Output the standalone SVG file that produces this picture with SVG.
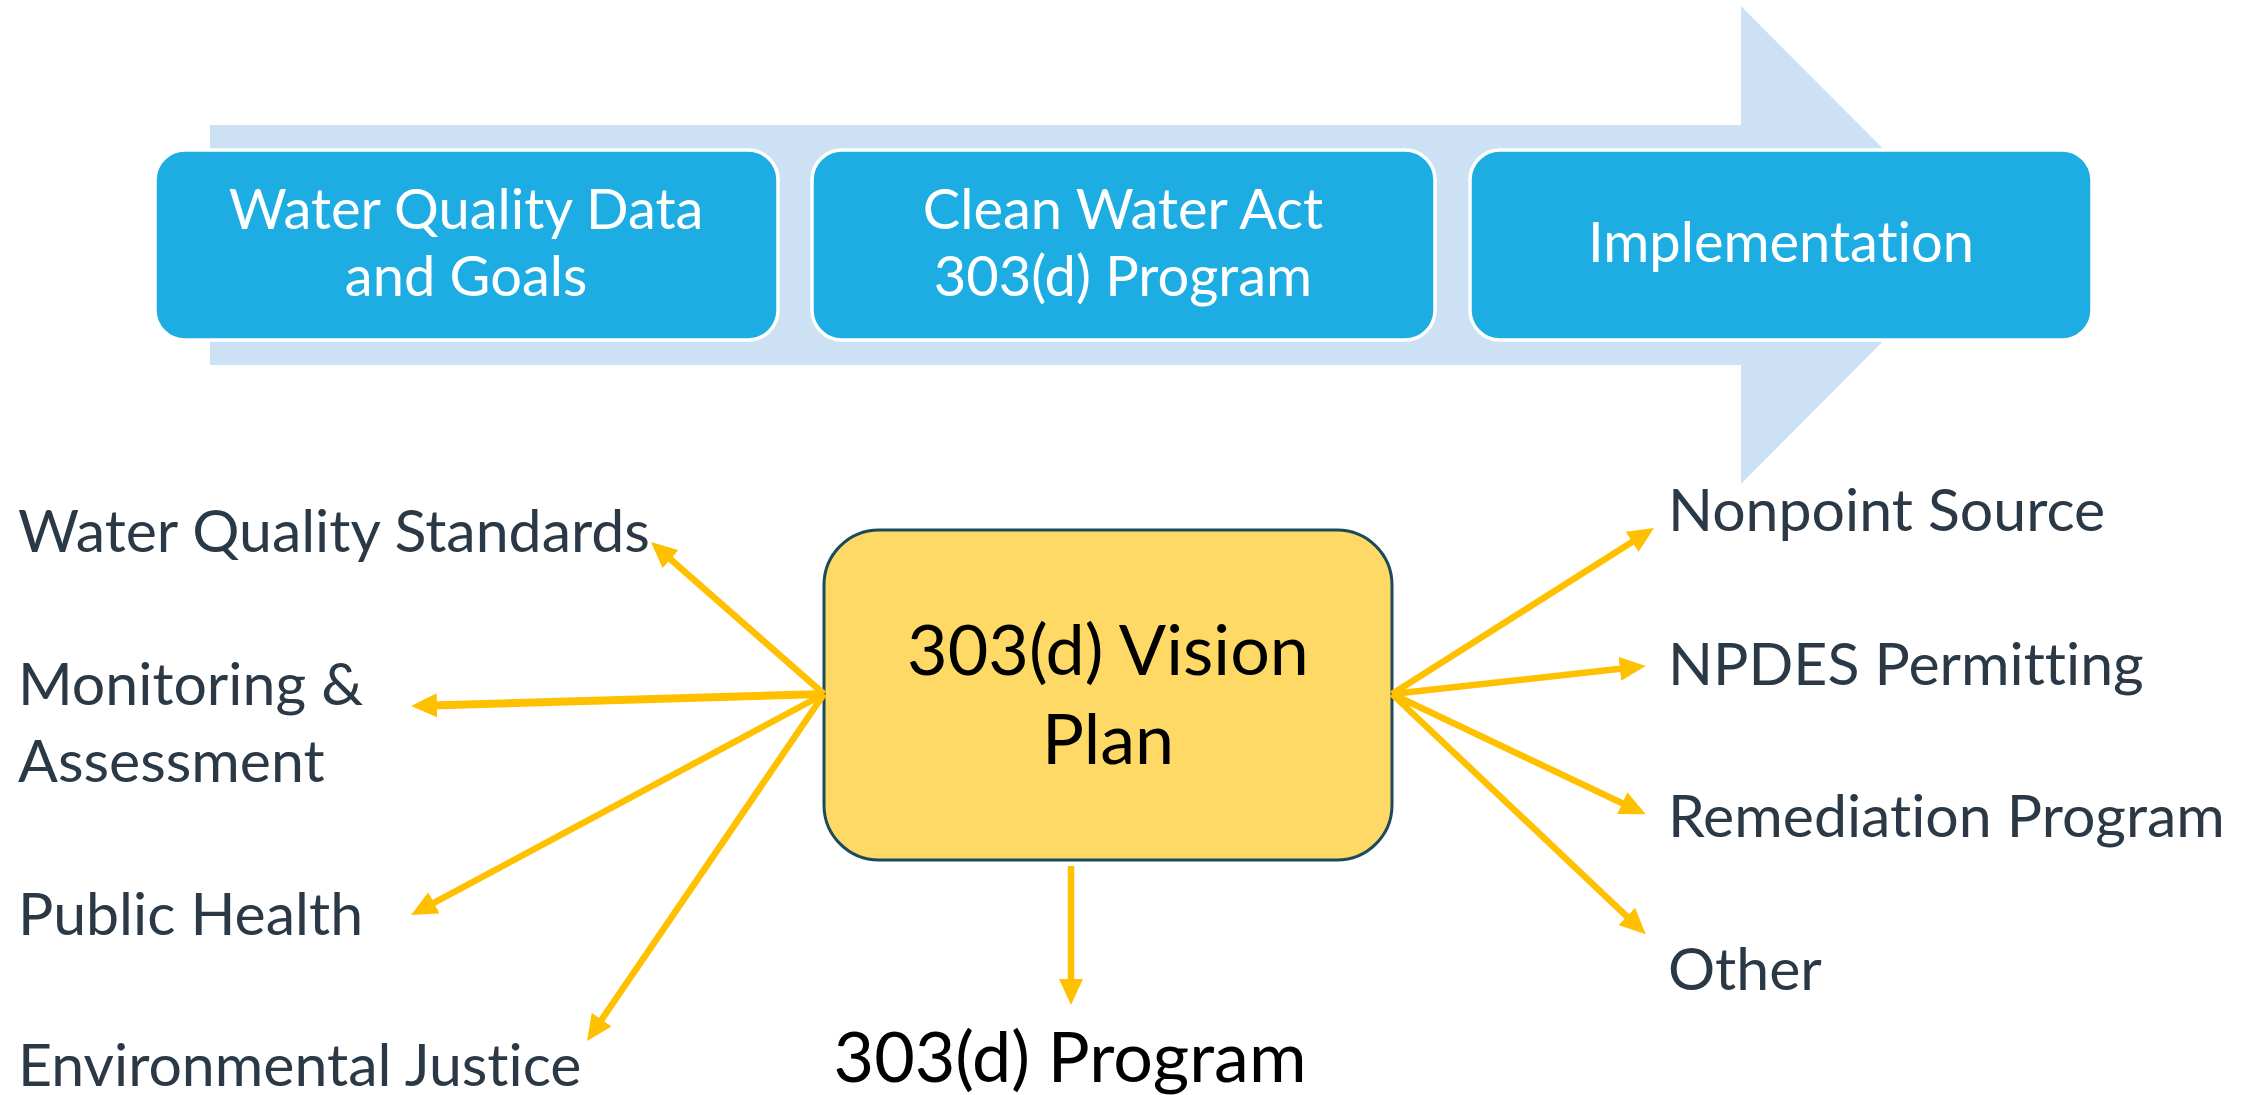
<svg xmlns="http://www.w3.org/2000/svg" width="2257" height="1095" viewBox="0 0 2257 1095">
  <style>
    text { font-variant-ligatures: none; font-feature-settings: "liga" 0, "dlig" 0; }
    .stage { fill: #1EADE3; stroke: #FFFFFF; stroke-width: 3.5; }
    .stage-text { font-family: Lato, "Open Sans", "Liberation Sans", sans-serif; font-size: 56px; fill: #FFFFFF; text-anchor: middle; }
    .vision { fill: #FFD966; stroke: #1B4A5C; stroke-width: 3; }
    .vision-text { font-family: Lato, "Open Sans", "Liberation Sans", sans-serif; font-size: 70px; fill: #000000; text-anchor: middle; }
    .label { font-family: Lato, "Open Sans", "Liberation Sans", sans-serif; font-size: 59px; fill: #2B3946; }
    .conn { stroke: #FFC000; stroke-width: 6.5; fill: none; marker-end: url(#ah); }
  </style>
  <defs>
    <marker id="ah" markerUnits="userSpaceOnUse" viewBox="0 0 26 24" markerWidth="26" markerHeight="24" refX="14" refY="12" orient="auto">
      <path d="M0,0 L26,12 L0,24 z" fill="#FFC000"/>
    </marker>
  </defs>

  <g id="flow-arrow">
    <polygon points="210,125 1741,125 1741,6 1979,245 1741,484 1741,365 210,365" fill="#CCE2F4"/>
  </g>

  <g id="node-data">
    <rect class="stage" x="155" y="150" width="623" height="190" rx="30" ry="30"/>
    <text class="stage-text" x="466" y="229">Water Quality Data</text>
    <text class="stage-text" x="466" y="296">and Goals</text>
  </g>
  <g id="node-cwa">
    <rect class="stage" x="812" y="150" width="623" height="190" rx="30" ry="30"/>
    <text class="stage-text" x="1123" y="229">Clean Water Act</text>
    <text class="stage-text" x="1123" y="296">303(d) Program</text>
  </g>
  <g id="node-impl">
    <rect class="stage" x="1470" y="150" width="622" height="190" rx="30" ry="30"/>
    <text class="stage-text" x="1781" y="262">Implementation</text>
  </g>

  <g id="node-vision">
    <rect class="vision" x="824" y="530" width="568" height="330" rx="55" ry="55"/>
    <text class="vision-text" x="1108" y="675">303(d) Vision</text>
    <text class="vision-text" x="1108" y="764">Plan</text>
  </g>

  <g id="node-wqs"><text class="label" x="18" y="552">Water Quality Standards</text></g>
  <g id="node-monitoring">
    <text class="label" x="18" y="705">Monitoring &amp;</text>
    <text class="label" x="18" y="782">Assessment</text>
  </g>
  <g id="node-health"><text class="label" x="18" y="935">Public Health</text></g>
  <g id="node-ej"><text class="label" x="18" y="1086">Environmental Justice</text></g>

  <g id="node-nps"><text class="label" x="1668" y="531">Nonpoint Source</text></g>
  <g id="node-npdes"><text class="label" x="1668" y="685">NPDES Permitting</text></g>
  <g id="node-remediation"><text class="label" x="1668" y="837">Remediation Program</text></g>
  <g id="node-other"><text class="label" x="1668" y="990">Other</text></g>

  <g id="node-program">
    <text class="vision-text" x="1070" y="1082">303(d) Program</text>
  </g>

  <g id="connectors">
    <line class="conn" x1="824" y1="694" x2="660" y2="550"/>
    <line class="conn" x1="824" y1="694" x2="423" y2="705.7" style="stroke-width:8"/>
    <line class="conn" x1="824" y1="694" x2="421.6" y2="909.4"/>
    <line class="conn" x1="824" y1="694" x2="593.8" y2="1031.1"/>
    <line class="conn" x1="1392" y1="694" x2="1643.9" y2="534.4"/>
    <line class="conn" x1="1392" y1="694" x2="1633.8" y2="667.3"/>
    <line class="conn" x1="1392" y1="694" x2="1634.9" y2="809.2"/>
    <line class="conn" x1="1392" y1="694" x2="1637" y2="926.1"/>
    <line class="conn" x1="1071" y1="866" x2="1071" y2="993"/>
  </g>
</svg>
